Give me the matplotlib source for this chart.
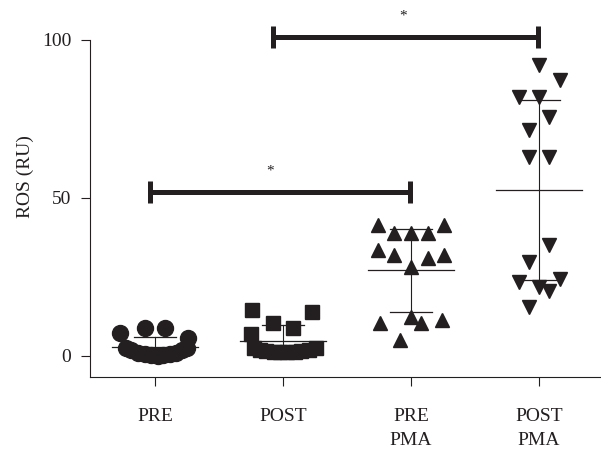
import numpy as np
import matplotlib.pyplot as plt

plt.rcParams['font.family'] = ['Liberation Serif', 'DejaVu Serif']

# group labels
groups = ["PRE", "POST", "PRE\nPMA", "POST\nPMA"]
markers = ["o", "s", "^", "v"]

# ROS values per group (RU)
pre_vals = [7.3, 8.9, 8.9, 5.7, 2.5, 1.8, 1.0, 0.5, 0.2, 0.1, 0.2, 0.5, 1.0, 1.8, 2.5]
post_vals = [14.6, 13.9, 10.4, 8.9, 7.0, 2.5, 2.0, 1.6, 1.3, 1.1, 1.1, 1.3, 1.6, 2.0, 2.5]
prepma_vals = [41.5, 38.9, 38.9, 38.9, 41.5, 33.5, 32.0, 28.2, 31.0, 32.0,
               10.4, 5.1, 12.3, 10.4, 11.4]
postpma_vals = [92.1, 87.3, 82.0, 82.0, 75.6, 71.5, 63.0, 63.0,
                35.1, 29.7, 23.4, 21.8, 20.6, 24.4, 15.5]

# horizontal scatter of the points around each group (in group units)
pre_off = [-0.27, -0.08, 0.08, 0.26, -0.23, -0.19, -0.13, -0.08, -0.03, 0.02,
           0.06, 0.12, 0.16, 0.21, 0.25]
post_off = [-0.24, 0.23, -0.08, 0.08, -0.25, -0.23, -0.18, -0.13, -0.07, -0.02,
            0.03, 0.09, 0.14, 0.2, 0.26]
prepma_off = [-0.26, -0.13, 0.0, 0.13, 0.26, -0.26, -0.13, 0.0, 0.13, 0.26,
              -0.24, -0.09, 0.0, 0.08, 0.24]
postpma_off = [0.0, 0.16, -0.16, 0.0, 0.08, -0.08, -0.08, 0.08,
               0.08, -0.08, -0.16, 0.0, 0.08, 0.16, -0.08]

values = [pre_vals, post_vals, prepma_vals, postpma_vals]
offsets = [pre_off, post_off, prepma_off, postpma_off]
msizes = [11.5, 10.5, 10.5, 10.5]

# significance brackets: (x start, x end, y) and star positions
brackets = [(0.96, 2.99, 51.9), (1.92, 3.99, 100.9)]
star_x = [1.9, 2.94]
star_y = [58.6, 107.6]

ink = "#231f20"

fig = plt.figure(figsize=(6.01, 4.51), dpi=100)
ax = fig.add_axes([0.1498, 0.1641, 0.8502, 0.8315])

for i, (vals, off) in enumerate(zip(values, offsets)):
    pos = i + 1
    x = pos + np.array(off)
    ax.plot(x, vals, linestyle="none", marker=markers[i], ms=msizes[i],
            color=ink, mec=ink, zorder=2)
    m = np.mean(vals)
    sd = np.std(vals, ddof=1)
    ax.plot([pos - 0.336, pos + 0.336], [m, m], color=ink, lw=0.9, zorder=3)
    ax.plot([pos, pos], [m - sd, m + sd], color=ink, lw=0.8, zorder=3)
    for yy in (m - sd, m + sd):
        ax.plot([pos - 0.164, pos + 0.164], [yy, yy], color=ink, lw=0.9, zorder=3)

for x0, x1, yb in brackets:
    ax.plot([x0, x1], [yb, yb], color=ink, lw=3.6, solid_capstyle="butt", clip_on=False)
    for xx in (x0, x1):
        ax.plot([xx, xx], [yb - 3.6, yb + 3.6], color=ink, lw=3.6,
                solid_capstyle="butt", clip_on=False)

for sx, sy in zip(star_x, star_y):
    ax.text(sx, sy, "*", ha="center", va="center", fontsize=11, color=ink,
            clip_on=False)

ax.set_xlim(0.492, 4.484)
ax.set_ylim(-6.65, 112)
ax.set_xticks([1, 2, 3, 4])
ax.set_xticklabels(groups, linespacing=1.55)
ax.set_yticks([0, 50, 100])
ax.set_ylabel("ROS (RU)", fontsize=14, color=ink)
ax.yaxis.set_label_coords(-0.11, 0.535)

for s in ["top", "right"]:
    ax.spines[s].set_visible(False)
ax.spines["left"].set_bounds(-6.65, 100)
for s in ["left", "bottom"]:
    ax.spines[s].set_linewidth(0.8)
    ax.spines[s].set_color(ink)

ax.tick_params(axis="both", direction="out", length=6.5, width=0.8, color=ink,
               labelsize=14, labelcolor=ink)
ax.tick_params(axis="x", pad=15.5)
ax.tick_params(axis="y", pad=7)

fig.savefig("out.png", dpi=100)
